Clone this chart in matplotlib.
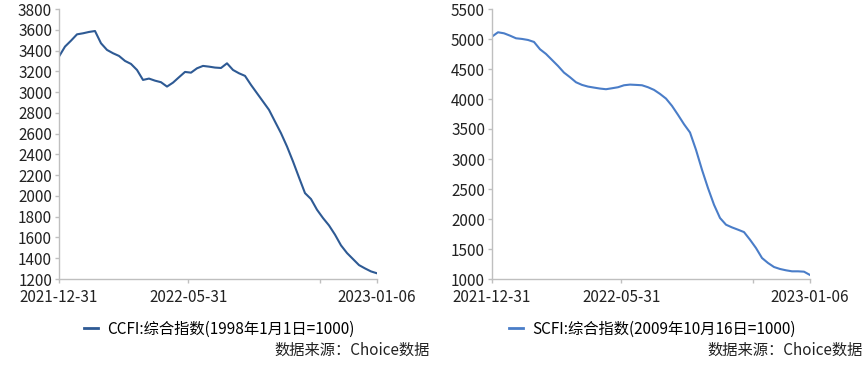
import pandas as pd
import matplotlib.pyplot as plt
import numpy as np

plt.rcParams['font.family'] = ['Noto Sans CJK SC', 'DejaVu Sans']

# 周度数据 2021-12-31 ~ 2023-01-06
dates = pd.date_range("2021-12-31", "2023-01-06", freq="7D")

ccfi = [3342, 3438, 3495, 3556, 3566, 3579, 3588, 3470, 3406, 3374,
        3348, 3300, 3271, 3213, 3117, 3130, 3110, 3095, 3053, 3091,
        3143, 3194, 3187, 3229, 3252, 3245, 3236, 3232, 3277, 3213,
        3181, 3156, 3069, 2989, 2909, 2829, 2716, 2604, 2476, 2332,
        2178, 2027, 1970, 1867, 1787, 1716, 1627, 1524, 1450, 1392,
        1334, 1302, 1273, 1255]

scfi = [5040, 5112, 5095, 5056, 5012, 5001, 4984, 4951, 4829, 4751,
        4651, 4551, 4440, 4363, 4279, 4235, 4207, 4190, 4174, 4163,
        4179, 4196, 4229, 4240, 4235, 4229, 4196, 4152, 4085, 4007,
        3885, 3736, 3580, 3442, 3153, 2820, 2515, 2238, 2017, 1905,
        1860, 1822, 1782, 1655, 1516, 1350, 1267, 1200, 1167, 1145,
        1128, 1128, 1122, 1067]

tick_dates = pd.to_datetime(["2021-12-31", "2022-05-31", "2022-10-31", "2023-01-06"])
tick_labels = ["2021-12-31", "2022-05-31", "", "2023-01-06"]

ccfi_label = "CCFI:综合指数(1998年1月1日=1000)"
scfi_label = "SCFI:综合指数(2009年10月16日=1000)"
source = "数据来源：Choice数据"

W, H = 865, 369
fig = plt.figure(figsize=(W / 100, H / 100), dpi=100)

ax1 = fig.add_axes([59 / W, 1 - 279 / H, 318 / W, 270 / H])
ax2 = fig.add_axes([492 / W, 1 - 279 / H, 318 / W, 270 / H])

panels = [
    (ax1, ccfi, "#2E5A94", ccfi_label, (1200, 3800, 200), 84, 430),
    (ax2, scfi, "#4A7DC8", scfi_label, (1000, 5500, 500), 509, 863),
]

for ax, vals, color, label, (ymin, ymax, step), leg_x, src_x in panels:
    line, = ax.plot(dates, vals, color=color, linewidth=1.5,
                    solid_joinstyle="round")
    ax.set_xlim(dates[0], dates[-1])
    ax.set_ylim(ymin, ymax)
    ax.set_yticks(np.arange(ymin, ymax + 1, step))
    ax.set_xticks(tick_dates)
    ax.set_xticklabels(tick_labels)
    for s in ["top", "right"]:
        ax.spines[s].set_visible(False)
    for s in ["left", "bottom"]:
        ax.spines[s].set_color("#BFBFBF")
        ax.spines[s].set_linewidth(1.0)
    ax.tick_params(axis="both", colors="#BFBFBF", labelcolor="#222222",
                   labelsize=11, length=3, width=1)
    ax.tick_params(axis="x", pad=4)
    ax.tick_params(axis="y", pad=2)

    leg = fig.legend([line], [label], loc="center left",
                     bbox_to_anchor=(leg_x / W, 1 - 329 / H), frameon=False,
                     fontsize=11, handlelength=0.9, handletextpad=0.6,
                     borderpad=0, borderaxespad=0)
    leg.get_lines()[0].set_linewidth(2)
    fig.text(src_x / W, 1 - 350 / H, source, ha="right", va="center",
             fontsize=11, color="#222222")

plt.savefig("out.png", dpi=100)
plt.close()
